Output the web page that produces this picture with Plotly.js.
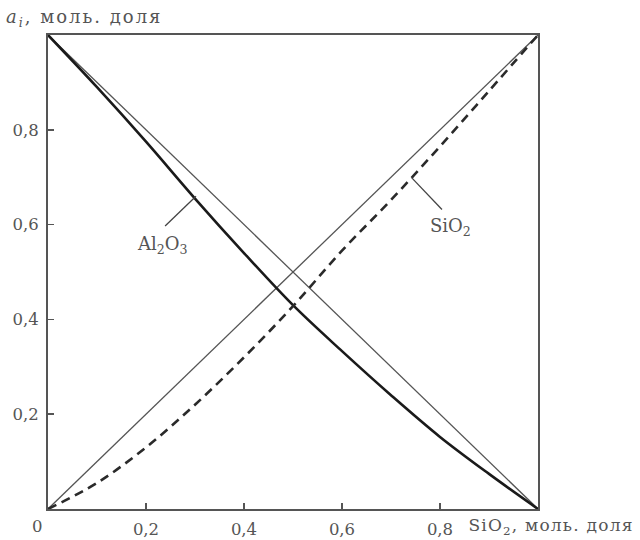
<!DOCTYPE html>
<html><head><meta charset="utf-8">
<script src="https://cdn.plot.ly/plotly-3.0.1.min.js"></script>
<style>body{margin:0;background:#fff}</style>
</head><body><div id="chart" style="width:640px;height:540px"></div>
<script>
// SiO2 mole fraction
const xSiO2 = [0, 0.1, 0.2, 0.3, 0.4, 0.5, 0.6, 0.7, 0.8, 0.9, 1.0];
// activity of Al2O3 (solid curve)
const aAl2O3 = [1.0, 0.89, 0.775, 0.655, 0.54, 0.43, 0.333, 0.24, 0.152, 0.074, 0.0];
// activity of SiO2 (dashed curve)
const aSiO2 = [0.0, 0.055, 0.13, 0.22, 0.32, 0.428, 0.545, 0.652, 0.765, 0.882, 1.0];
// ideal (Raoult) lines
const xIdeal = [0, 1];
const idealSiO2 = [0, 1];
const idealAl2O3 = [1, 0];
const tickVals = [0.2, 0.4, 0.6, 0.8];
const tickText = ['0,2', '0,4', '0,6', '0,8'];

const fontFam = '"DejaVu Serif", "Liberation Serif", serif';
const txtCol = '#555';

const traces = [
  {x: xIdeal, y: idealSiO2, mode: 'lines', line: {color: '#555', width: 1.3}, hoverinfo: 'skip'},
  {x: xIdeal, y: idealAl2O3, mode: 'lines', line: {color: '#555', width: 1.3}, hoverinfo: 'skip'},
  {x: xSiO2, y: aAl2O3, mode: 'lines', line: {color: '#1a1a1a', width: 2.6, shape: 'spline'}},
  {x: xSiO2, y: aSiO2, mode: 'lines', line: {color: '#2a2a2a', width: 2.6, dash: '9px,6px', shape: 'spline'}}
];

const layout = {
  width: 640, height: 540,
  margin: {l: 48, r: 102, t: 35, b: 31},
  showlegend: false,
  paper_bgcolor: '#fff', plot_bgcolor: '#fff',
  font: {family: fontFam, color: txtCol, size: 16},
  xaxis: {
    range: [0, 1], tickvals: tickVals, ticktext: tickText,
    ticks: 'inside', ticklen: 6, tickwidth: 1.5, tickcolor: '#555',
    ticklabelstandoff: 4,
    showgrid: false, zeroline: false,
    showline: true, linecolor: '#555', linewidth: 2, mirror: true,
    tickfont: {family: fontFam, size: 16.5, color: txtCol}
  },
  yaxis: {
    range: [0, 1], tickvals: tickVals, ticktext: tickText,
    ticks: 'inside', ticklen: 6, tickwidth: 1.5, tickcolor: '#555',
    ticklabelstandoff: 4,
    showgrid: false, zeroline: false,
    showline: true, linecolor: '#555', linewidth: 2, mirror: true,
    tickfont: {family: fontFam, size: 16.5, color: txtCol}
  },
  shapes: [
    {type: 'line', xref: 'x', yref: 'y', x0: 0.239, y0: 0.597, x1: 0.302, y1: 0.66, line: {color: '#444', width: 1.3}},
    {type: 'line', xref: 'x', yref: 'y', x0: 0.742, y0: 0.699, x1: 0.804, y1: 0.632, line: {color: '#444', width: 1.3}}
  ],
  annotations: [
    {xref: 'x', yref: 'y', x: 0.234, y: 0.556, text: 'Al<sub>2</sub>O<sub>3</sub>', showarrow: false, font: {size: 18}},
    {xref: 'x', yref: 'y', x: 0.822, y: 0.596, text: 'SiO<sub>2</sub>', showarrow: false, font: {size: 18}},
    {xref: 'paper', yref: 'paper', x: -0.022, y: 0, yshift: -17, text: '0', showarrow: false, xanchor: 'center', yanchor: 'middle', font: {size: 16.5}},
    {xref: 'paper', yref: 'paper', x: 0.874, y: 0, yshift: -17, text: 'SiO<sub>2</sub>, моль. доля', showarrow: false, xanchor: 'left', yanchor: 'middle', font: {size: 17}},
    {xref: 'paper', yref: 'paper', x: -0.062, y: 1, yshift: 17, text: '<i>a<sub>i</sub></i>, моль. доля', showarrow: false, xanchor: 'left', yanchor: 'middle', font: {size: 18}}
  ]
};

Plotly.newPlot('chart', traces, layout, {displayModeBar: false, staticPlot: true}).then(function () {
  const texts = document.querySelectorAll('.annotation-text');
  texts.forEach(function (t) {
    const s = t.textContent;
    if (s.indexOf('SiO') === 0 && s.indexOf('моль') >= 0) t.style.letterSpacing = '1.2px';
    else if (s.indexOf('моль') >= 0) t.style.letterSpacing = '2px';
  });
});
</script>
</body></html>
